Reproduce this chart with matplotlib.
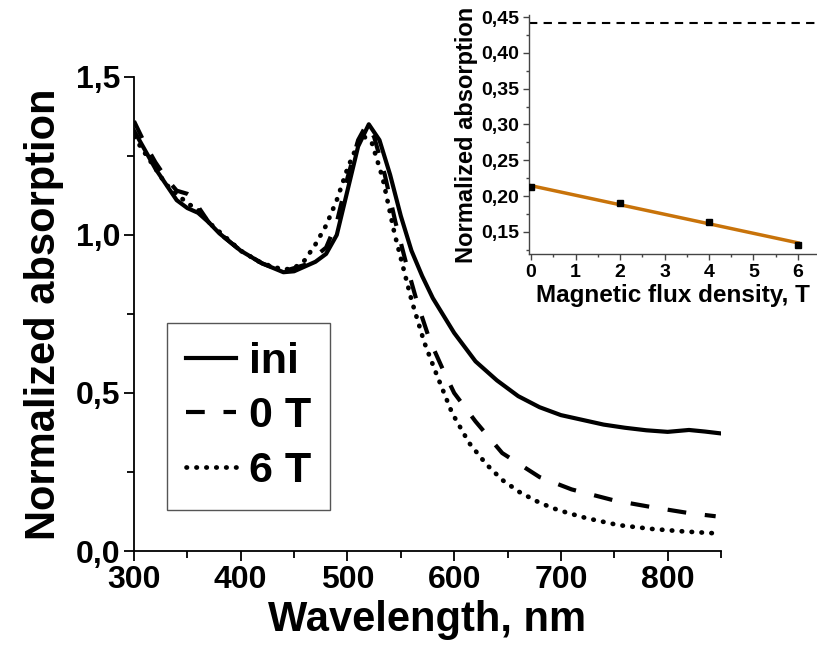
import numpy as np
from matplotlib import pyplot as plt
from matplotlib.ticker import MultipleLocator, FuncFormatter

plt.rcParams['font.family'] = ['Liberation Sans', 'DejaVu Sans']
plt.rcParams['font.weight'] = 'bold'

#---- Data

wl_ini = [300, 310, 320, 330, 340, 350, 360, 370, 380, 400, 420, 440, 450,
          460, 470, 480, 490, 500, 510, 520, 530, 540, 550, 560, 570, 580,
          600, 620, 640, 660, 680, 700, 720, 740, 760, 780, 800, 820, 835, 850]
ab_ini = [1.33, 1.27, 1.21, 1.16, 1.11, 1.085, 1.07, 1.04, 1.005, 0.95, 0.91,
          0.882, 0.885, 0.90, 0.915, 0.94, 1.00, 1.14, 1.28, 1.35, 1.30, 1.19,
          1.06, 0.95, 0.87, 0.80, 0.69, 0.60, 0.54, 0.49, 0.455, 0.43, 0.415,
          0.40, 0.39, 0.382, 0.377, 0.383, 0.378, 0.372]

wl_0T = [300, 310, 320, 330, 340, 350, 355, 360, 370, 380, 400, 420, 440, 460,
         480, 490, 500, 510, 518, 525, 535, 545, 555, 565, 577, 590, 600, 620,
         645, 680, 710, 750, 785, 820, 845]
ab_0T = [1.36, 1.29, 1.23, 1.18, 1.14, 1.13, 1.12, 1.09, 1.04, 1.005, 0.95,
         0.91, 0.885, 0.905, 0.96, 1.04, 1.18, 1.30, 1.35, 1.31, 1.19, 1.04,
         0.91, 0.79, 0.668, 0.57, 0.50, 0.41, 0.31, 0.234, 0.195, 0.16, 0.139,
         0.12, 0.11]

wl_6T = [300, 310, 320, 330, 340, 350, 360, 370, 380, 400, 420, 440, 450, 460,
         470, 480, 490, 500, 510, 516, 523, 533, 544, 552, 560, 572, 583, 598,
         614, 630, 645, 661, 677, 692, 707, 724, 754, 785, 815, 850]
ab_6T = [1.31, 1.26, 1.21, 1.16, 1.13, 1.10, 1.08, 1.04, 1.01, 0.95, 0.91,
         0.89, 0.895, 0.92, 0.97, 1.03, 1.11, 1.21, 1.29, 1.31, 1.29, 1.18,
         1.006, 0.90, 0.794, 0.66, 0.563, 0.437, 0.342, 0.275, 0.225, 0.187,
         0.158, 0.136, 0.12, 0.104, 0.082, 0.07, 0.062, 0.055]

field   = [0, 2, 4, 6]
ab_peak = [0.212, 0.190, 0.164, 0.132]
ab_ref  = 0.441   # dashed level in the inset

labels = ['ini', '0 T', '6 T']


def comma(x, pos, nd):
    return ('%.*f' % (nd, x)).replace('.', ',')


#---- Script

if __name__ == '__main__':

    fig = plt.figure(figsize=(8.17, 6.46), dpi=100)

    #---> Main axes
    ax = fig.add_axes([0.164, 0.147, 0.7185, 0.734])

    ax.plot(wl_ini, ab_ini, '-', color='k', lw=3.0, label=labels[0])
    ax.plot(wl_0T, ab_0T, color='k', lw=3.0, ls=(0, (4.5, 4.5)),
            dash_capstyle='butt', label=labels[1])
    ax.plot(wl_6T, ab_6T, color='k', lw=3.4, ls=(0, (0.1, 2.0)),
            dash_capstyle='round', label=labels[2])

    ax.set_xlim(300, 850)
    ax.set_ylim(0, 1.5)
    ax.xaxis.set_major_locator(MultipleLocator(100))
    ax.xaxis.set_minor_locator(MultipleLocator(50))
    ax.yaxis.set_major_locator(MultipleLocator(0.5))
    ax.yaxis.set_minor_locator(MultipleLocator(0.25))
    ax.yaxis.set_major_formatter(FuncFormatter(lambda x, p: comma(x, p, 1)))

    for s in ['top', 'right']:
        ax.spines[s].set_visible(False)
    for s in ['left', 'bottom']:
        ax.spines[s].set_linewidth(1.3)

    ax.tick_params(which='both', direction='out', width=1.3)
    ax.tick_params(which='major', length=7, labelsize=23, pad=3)
    ax.tick_params(which='minor', length=5)

    ax.set_xlabel('Wavelength, nm', fontsize=30, fontweight='bold', labelpad=4)
    ax.set_ylabel('Normalized absorption', fontsize=30, fontweight='bold',
                  labelpad=8)

    leg = ax.legend(loc='lower left', bbox_to_anchor=(0.056, 0.0865),
                    fontsize=31, handlelength=1.15, handletextpad=0.3,
                    labelspacing=0.33, borderpad=0.45, borderaxespad=0,
                    fancybox=False, framealpha=1)
    leg.get_frame().set_edgecolor('#555555')
    leg.get_frame().set_linewidth(1.0)

    #---> Inset
    ins = fig.add_axes([0.6473, 0.6068, 0.3528, 0.3702])

    a, b = np.polyfit(field, ab_peak, 1)
    xf = np.array([field[0], field[-1]])
    ins.plot(xf, a * xf + b, '-', color='#c8730a', lw=2.5, zorder=2)
    ins.plot(field, ab_peak, 's', color='k', ms=5, zorder=3)
    ins.axhline(ab_ref, color='k', lw=1.5, ls=(0, (4, 3)))

    ins.set_xlim(-0.05, 6.43)
    ins.set_ylim(0.119, 0.453)
    ins.xaxis.set_major_locator(MultipleLocator(1))
    ins.xaxis.set_minor_locator(MultipleLocator(0.5))
    ins.yaxis.set_major_locator(MultipleLocator(0.05))
    ins.yaxis.set_minor_locator(MultipleLocator(0.025))
    ins.yaxis.set_major_formatter(FuncFormatter(lambda x, p: comma(x, p, 2)))

    for s in ['top', 'right']:
        ins.spines[s].set_visible(False)
    for s in ['left', 'bottom']:
        ins.spines[s].set_linewidth(1.0)
        ins.spines[s].set_color('#444444')

    ins.tick_params(which='both', direction='out', width=1.0, color='#444444')
    ins.tick_params(which='major', length=4, labelsize=14, pad=3)
    ins.tick_params(which='minor', length=2.5)

    ins.set_xlabel('Magnetic flux density, T', fontsize=17.5,
                   fontweight='bold', labelpad=2)
    ins.set_ylabel('Normalized absorption', fontsize=17, fontweight='bold',
                   labelpad=2)

    plt.savefig('out.png', dpi=100)
